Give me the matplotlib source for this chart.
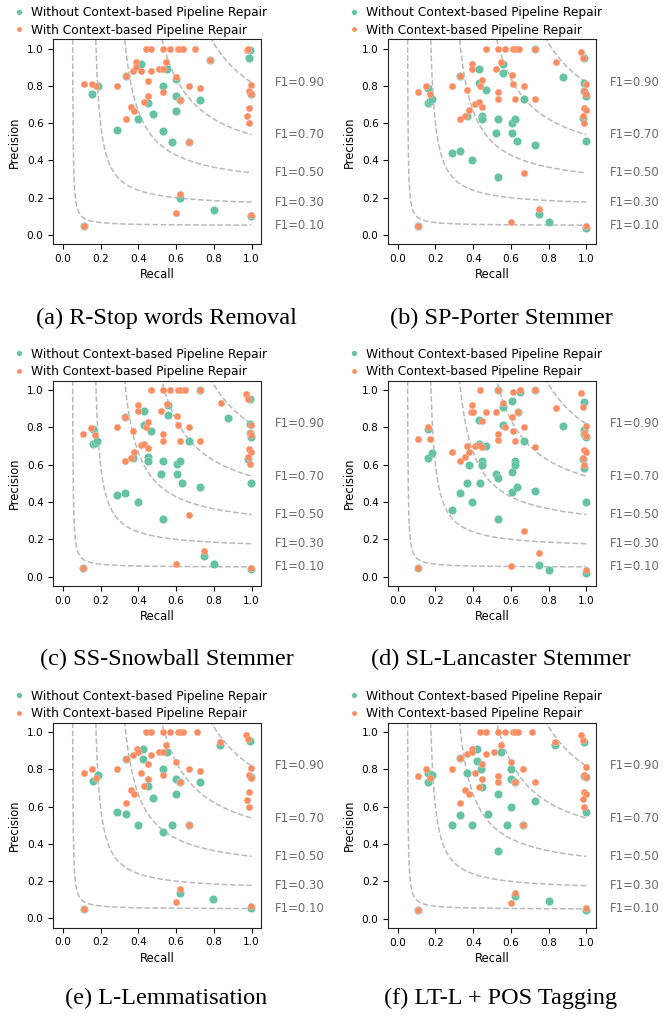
import numpy as np
import matplotlib
matplotlib.use("Agg")
import matplotlib.pyplot as plt
from matplotlib.lines import Line2D

# ---------------- data ----------------
f1_levels = [0.1, 0.3, 0.5, 0.7, 0.9]
f1_labels = ["F1=0.10", "F1=0.30", "F1=0.50", "F1=0.70", "F1=0.90"]
legend_labels = ["Without Context-based Pipeline Repair", "With Context-based Pipeline Repair"]
captions = ["(a) R-Stop words Removal", "(b) SP-Porter Stemmer", "(c) SS-Snowball Stemmer",
            "(d) SL-Lancaster Stemmer", "(e) L-Lemmatisation", "(f) LT-L + POS Tagging"]
tick_values = [0.0, 0.2, 0.4, 0.6, 0.8, 1.0]

# (a) R-Stop words Removal
a_without_recall = [0.153, 0.185, 0.29, 0.333, 0.397, 0.414, 0.45, 0.48, 0.53, 0.53,
                    0.55, 0.577, 0.60, 0.60, 0.60, 0.62, 0.62, 0.728, 0.80, 0.986,
                    0.99, 0.997, 0.997, 0.115, 0.667, 0.78]
a_without_precision = [0.757, 0.80, 0.565, 0.855, 0.62, 0.92, 0.707, 0.648, 0.80, 0.556,
                       0.893, 0.50, 0.835, 0.748, 0.667, 0.20, 0.726, 0.726, 0.136, 0.95,
                       0.99, 0.758, 0.10, 0.047, 0.50, 0.94]
a_with_recall = [0.113, 0.153, 0.175, 0.29, 0.333, 0.333, 0.362, 0.38, 0.374, 0.388,
                 0.39, 0.413, 0.432, 0.44, 0.45, 0.45, 0.467, 0.467, 0.511, 0.53,
                 0.53, 0.53, 0.545, 0.568, 0.60, 0.608, 0.62, 0.637, 0.62, 0.60,
                 0.62, 0.667, 0.667, 0.70, 0.728, 0.78, 0.974, 0.982, 0.995, 0.988,
                 0.995, 0.984, 0.975, 0.984, 0.997, 0.115]
a_with_precision = [0.81, 0.81, 0.80, 0.80, 0.855, 0.62, 0.687, 0.667, 0.882, 0.927,
                    0.90, 0.882, 0.712, 1.0, 0.828, 0.748, 1.0, 0.882, 0.891, 0.891,
                    1.0, 0.766, 0.927, 1.0, 0.85, 1.0, 1.0, 1.0, 0.726, 0.118,
                    0.22, 0.80, 0.50, 1.0, 0.79, 0.94, 0.993, 0.998, 0.807, 0.77,
                    0.757, 0.68, 0.64, 0.60, 0.109, 0.047]

# (b) SP-Porter Stemmer
b_without_recall = [0.16, 0.16, 0.172, 0.183, 0.288, 0.332, 0.332, 0.37, 0.396, 0.432,
                    0.432, 0.449, 0.449, 0.467, 0.52, 0.533, 0.533, 0.56, 0.56, 0.604,
                    0.604, 0.62, 0.63, 0.67, 0.728, 0.728, 0.874, 0.75, 0.80, 0.99,
                    0.99, 0.99, 0.998, 0.98, 0.998, 0.998, 0.108]
b_without_precision = [0.789, 0.709, 0.718, 0.727, 0.439, 0.448, 0.855, 0.638, 0.40, 0.889,
                       0.814, 0.639, 0.621, 0.78, 0.548, 0.62, 0.311, 0.918, 0.868, 0.602,
                       0.548, 0.62, 0.502, 0.729, 0.482, 1.0, 0.848, 0.113, 0.068, 0.95,
                       0.818, 0.771, 0.748, 0.629, 0.502, 0.039, 0.048]
b_with_recall = [0.108, 0.151, 0.172, 0.288, 0.332, 0.332, 0.359, 0.37, 0.378, 0.396,
                 0.396, 0.412, 0.432, 0.439, 0.449, 0.449, 0.467, 0.519, 0.533, 0.533,
                 0.533, 0.55, 0.568, 0.604, 0.609, 0.613, 0.627, 0.645, 0.62, 0.67,
                 0.67, 0.728, 0.728, 0.602, 0.75, 0.838, 0.972, 0.98, 0.998, 0.99,
                 0.998, 0.986, 0.998, 0.98, 0.99, 0.998, 0.108]
b_with_precision = [0.766, 0.798, 0.759, 0.80, 0.855, 0.62, 0.638, 0.78, 0.668, 0.92,
                    0.889, 0.704, 0.713, 0.80, 0.829, 0.689, 1.0, 0.889, 1.0, 0.766,
                    0.729, 0.927, 1.0, 0.861, 1.0, 0.811, 1.0, 1.0, 0.729, 0.80,
                    0.332, 1.0, 0.729, 0.068, 0.1375, 0.929, 0.98, 0.95, 0.811, 0.771,
                    0.757, 0.682, 0.668, 0.639, 0.602, 0.046, 0.048]

# (c) SS-Snowball Stemmer (same results as Porter)
c_without_recall = list(b_without_recall)
c_without_precision = list(b_without_precision)
c_with_recall = list(b_with_recall)
c_with_precision = list(b_with_precision)

# (d) SL-Lancaster Stemmer
d_without_recall = [0.16, 0.16, 0.181, 0.288, 0.332, 0.37, 0.378, 0.396, 0.432, 0.439,
                    0.449, 0.449, 0.467, 0.432, 0.52, 0.533, 0.533, 0.533, 0.556, 0.56,
                    0.604, 0.604, 0.604, 0.62, 0.62, 0.63, 0.64, 0.648, 0.67, 0.728,
                    0.728, 0.874, 0.75, 0.80, 0.99, 0.99, 0.99, 0.998, 0.98, 0.99,
                    0.998, 0.998, 0.108]
d_without_precision = [0.791, 0.636, 0.664, 0.357, 0.446, 0.50, 0.598, 0.398, 0.841, 0.50,
                       0.621, 0.60, 0.70, 0.711, 0.55, 0.529, 0.309, 1.0, 0.911, 0.814,
                       0.943, 0.559, 0.455, 0.621, 0.60, 0.482, 0.88, 0.99, 0.729, 0.457,
                       1.0, 0.809, 0.064, 0.0375, 0.9375, 0.786, 0.764, 0.746, 0.629, 0.58,
                       0.398, 0.018, 0.046]
d_with_recall = [0.108, 0.16, 0.172, 0.288, 0.332, 0.359, 0.37, 0.378, 0.387, 0.396,
                 0.40, 0.412, 0.432, 0.439, 0.449, 0.449, 0.467, 0.519, 0.533, 0.533,
                 0.533, 0.556, 0.568, 0.604, 0.609, 0.613, 0.648, 0.62, 0.64, 0.67,
                 0.67, 0.728, 0.728, 0.602, 0.75, 0.838, 0.972, 0.98, 0.998, 0.99,
                 0.998, 0.986, 0.998, 0.98, 0.99, 0.998, 0.108]
d_with_precision = [0.7375, 0.80, 0.7375, 0.666, 0.618, 0.639, 0.698, 0.67, 0.88, 0.92,
                    0.88, 0.70, 0.704, 1.0, 0.832, 0.693, 0.88, 0.88, 1.0, 0.764,
                    0.732, 0.929, 0.80, 0.857, 0.991, 0.782, 1.0, 0.729, 0.88, 0.80,
                    0.246, 1.0, 0.693, 0.055, 0.127, 0.902, 0.982, 0.911, 0.807, 0.77,
                    0.755, 0.68, 0.666, 0.636, 0.598, 0.036, 0.046]

# (e) L-Lemmatisation
e_without_recall = [0.162, 0.185, 0.289, 0.333, 0.333, 0.397, 0.423, 0.423, 0.45, 0.48,
                    0.529, 0.529, 0.55, 0.577, 0.60, 0.60, 0.62, 0.62, 0.728, 0.797,
                    0.832, 0.99, 0.996, 0.996, 0.115, 0.667]
e_without_precision = [0.736, 0.769, 0.569, 0.559, 0.855, 0.50, 0.909, 0.855, 0.708, 0.647,
                       0.80, 0.465, 0.895, 0.50, 0.749, 0.668, 0.137, 0.73, 0.73, 0.102,
                       0.93, 0.954, 0.758, 0.057, 0.048, 0.50]
e_with_recall = [0.113, 0.153, 0.175, 0.289, 0.333, 0.333, 0.362, 0.38, 0.37, 0.392,
                 0.397, 0.413, 0.432, 0.44, 0.45, 0.45, 0.467, 0.467, 0.511, 0.529,
                 0.529, 0.529, 0.545, 0.568, 0.60, 0.608, 0.62, 0.637, 0.62, 0.60,
                 0.62, 0.667, 0.667, 0.709, 0.728, 0.832, 0.97, 0.982, 0.995, 0.988,
                 0.995, 0.984, 0.975, 0.984, 0.996, 0.115]
e_with_precision = [0.779, 0.80, 0.755, 0.80, 0.855, 0.62, 0.689, 0.668, 0.878, 0.91,
                    0.895, 0.779, 0.708, 1.0, 0.829, 0.749, 1.0, 0.878, 0.891, 0.891,
                    1.0, 0.769, 0.93, 1.0, 0.838, 1.0, 1.0, 1.0, 0.73, 0.089,
                    0.155, 0.80, 0.50, 1.0, 0.79, 0.947, 0.982, 0.964, 0.807, 0.768,
                    0.754, 0.68, 0.636, 0.60, 0.066, 0.048]

# (f) LT-L + POS Tagging
f_without_recall = [0.16, 0.16, 0.18, 0.288, 0.332, 0.332, 0.37, 0.396, 0.423, 0.423,
                    0.44, 0.449, 0.48, 0.531, 0.531, 0.55, 0.577, 0.60, 0.60, 0.60,
                    0.62, 0.62, 0.728, 0.80, 0.835, 0.99, 0.99, 0.998, 0.998, 0.998,
                    0.666, 0.108]
f_without_precision = [0.78, 0.73, 0.77, 0.50, 0.558, 0.859, 0.78, 0.50, 0.909, 0.847,
                       0.80, 0.708, 0.563, 0.668, 0.36, 0.893, 0.503, 0.80, 0.748, 0.599,
                       0.119, 0.73, 0.631, 0.093, 0.931, 0.948, 0.766, 0.757, 0.57, 0.048,
                       0.50, 0.048]
f_with_recall = [0.108, 0.151, 0.172, 0.288, 0.332, 0.332, 0.359, 0.378, 0.37, 0.396,
                 0.396, 0.412, 0.432, 0.439, 0.449, 0.449, 0.467, 0.467, 0.512, 0.531,
                 0.531, 0.531, 0.55, 0.568, 0.60, 0.609, 0.622, 0.64, 0.62, 0.666,
                 0.666, 0.60, 0.62, 0.71, 0.728, 0.835, 0.972, 0.98, 0.998, 0.99,
                 0.998, 0.986, 0.998, 0.98, 0.99, 0.998, 0.108]
f_with_precision = [0.766, 0.80, 0.755, 0.80, 0.859, 0.62, 0.69, 0.668, 0.88, 0.91,
                    0.893, 0.78, 0.708, 1.0, 0.829, 0.749, 1.0, 0.88, 0.893, 1.0,
                    0.766, 0.73, 0.93, 1.0, 0.838, 1.0, 1.0, 1.0, 0.73, 0.80,
                    0.50, 0.084, 0.137, 1.0, 0.73, 0.948, 0.982, 0.957, 0.811, 0.77,
                    0.757, 0.68, 0.668, 0.64, 0.60, 0.057, 0.048]

panels = [
    (a_without_recall, a_without_precision, a_with_recall, a_with_precision),
    (b_without_recall, b_without_precision, b_with_recall, b_with_precision),
    (c_without_recall, c_without_precision, c_with_recall, c_with_precision),
    (d_without_recall, d_without_precision, d_with_recall, d_with_precision),
    (e_without_recall, e_without_precision, e_with_recall, e_with_precision),
    (f_without_recall, f_without_precision, f_with_recall, f_with_precision),
]

# ---------------- style / layout ----------------
GREEN = "#66c2a5"
ORANGE = "#fc8d62"
W, H = 663, 1016
fig = plt.figure(figsize=(W / 100, H / 100), dpi=100)
fig.patch.set_facecolor("white")

# axes boxes in pixels: left, right, top, bottom
boxes = [
    (53.3, 261.0, 39.3, 244.3), (388.3, 595.7, 39.3, 244.3),
    (53.3, 261.0, 380.7, 586.0), (388.3, 595.7, 380.7, 586.0),
    (53.3, 261.0, 722.7, 927.7), (388.3, 595.7, 722.7, 928.0),
]
caption_pos = [(166.5, 318), (501, 318), (166.5, 659), (501, 659), (166.5, 998), (501, 998)]

TICK_FS = 7.6
LABEL_FS = 8.3
LEG_FS = 8.8
F1_FS = 8.4

for i, (box, data) in enumerate(zip(boxes, panels)):
    l, r, t, b = box
    ax = fig.add_axes([l / W, 1 - b / H, (r - l) / W, (b - t) / H])
    gx, gy, ox, oy = data
    # iso-F1 curves
    for f in f1_levels:
        x = np.linspace(0.01, 1, 800)
        with np.errstate(divide="ignore"):
            y = f * x / (2 * x - f)
        m = (y >= 0) & (y <= 2)
        ax.plot(x[m], y[m], color="gray", alpha=0.55, ls="--", lw=1.1, zorder=1)
    for f, lab in zip(f1_levels, f1_labels):
        yv = f / (2 - f)
        ax.text(1.123, yv, lab, color="#6a6a6a", fontsize=F1_FS, ha="left", va="center",
                clip_on=False)
    ax.scatter(gx, gy, s=36, color=GREEN, edgecolor="white", linewidth=0.15, zorder=2)
    ax.scatter(ox, oy, s=25, color=ORANGE, edgecolor="white", linewidth=0.15, zorder=3)
    ax.set_xlim(-0.05, 1.05)
    ax.set_ylim(-0.05, 1.05)
    ax.set_xticks(tick_values)
    ax.set_yticks(tick_values)
    ax.set_xticklabels([f"{v:.1f}" for v in tick_values], fontsize=TICK_FS)
    ax.set_yticklabels([f"{v:.1f}" for v in tick_values], fontsize=TICK_FS)
    ax.set_xlabel("Recall", fontsize=LABEL_FS, labelpad=3)
    ax.set_ylabel("Precision", fontsize=LABEL_FS, labelpad=4)
    for sp in ax.spines.values():
        sp.set_linewidth(0.8)
        sp.set_color("#222222")

    handles = [Line2D([], [], ls="none", marker="o", ms=4.0, color=GREEN, mec="white", mew=0.2),
               Line2D([], [], ls="none", marker="o", ms=3.7, color=ORANGE, mec="white", mew=0.2)]
    leg_left = l - 40.3
    leg_top = t - 33.0
    ax.legend(handles, legend_labels, loc="upper left",
              bbox_to_anchor=(leg_left / W, 1 - leg_top / H), bbox_transform=fig.transFigure,
              frameon=False, fontsize=LEG_FS, handlelength=1.0, handletextpad=0.5,
              borderpad=0, borderaxespad=0, labelspacing=0.35)

    cx, cy = caption_pos[i]
    fig.text(cx / W, 1 - cy / H, captions[i], ha="center", va="center",
             fontsize=17.5, family=["Liberation Serif", "DejaVu Serif"])

fig.savefig("out.png", dpi=100, facecolor="white")
